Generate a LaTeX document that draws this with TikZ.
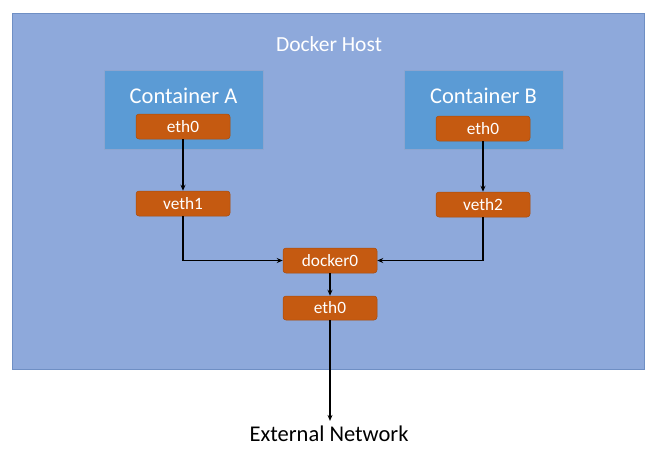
\documentclass[tikz,border=0pt]{standalone}
\usepackage{fontspec}
\setmainfont{Carlito}
\usetikzlibrary{arrows.meta}
\definecolor{hostblue}{HTML}{8EA9DB}
\definecolor{contblue}{HTML}{5B9BD5}
\definecolor{ifcorange}{HTML}{C55A11}
\definecolor{lineblue}{HTML}{6F8FC4}
\tikzset{
  host/.style={draw=lineblue, line width=0.8pt, fill=hostblue, inner sep=0pt, minimum width=632pt, minimum height=356pt},
  cont/.style={draw=lineblue!80!white, line width=0.6pt, fill=contblue, inner sep=0pt, minimum width=159pt, minimum height=79pt},
  ifc/.style={draw=ifcorange!85!black, line width=0.5pt, fill=ifcorange, rounded corners=3pt, inner sep=0pt, minimum width=94pt, minimum height=25pt, text=white, font=\fontsize{17.3}{20}\selectfont},
  conn/.style={draw=black, line width=1.3pt, -{Stealth[length=6pt,width=5pt]}},
  lbl/.style={font=\fontsize{22.5}{26}\selectfont}
}
\begin{document}
\begin{tikzpicture}[x=1pt,y=-1pt]
\useasboundingbox (0,0) rectangle (656,450);
\fill[white] (0,0) rectangle (656,450);
\node[host] (host) at (328,191) {};
\node[text=white, font=\fontsize{21.5}{25}\selectfont] (hostlbl) at (329,44) {Docker Host};
\node[cont] (conta) at (183.5,109.5) {};
\node[cont] (contb) at (483.5,109.5) {};
\node[text=white, lbl] (ca) at (183.5,96) {Container A};
\node[text=white, lbl] (cb) at (483.5,96) {Container B};
\node[ifc] (etha) at (183,126.5) {eth0};
\node[ifc] (veth1) at (183,203.5) {veth1};
\node[ifc] (ethb) at (483,128.5) {eth0};
\node[ifc] (veth2) at (483,204.5) {veth2};
\node[ifc] (docker) at (330,260.5) {docker0};
\node[ifc, minimum height=24pt] (ethh) at (330,308) {eth0};
\node[lbl, inner sep=5pt] (ext) at (329,434) {External Network};
\draw[conn] (etha) -- (veth1);
\draw[conn] (ethb) -- (veth2);
\draw[conn] (veth1) |- (docker);
\draw[conn] (veth2) |- (docker);
\draw[conn] (docker) -- (ethh);
\draw[conn] (ethh) -- (ethh |- ext.north);
\end{tikzpicture}
\end{document}
